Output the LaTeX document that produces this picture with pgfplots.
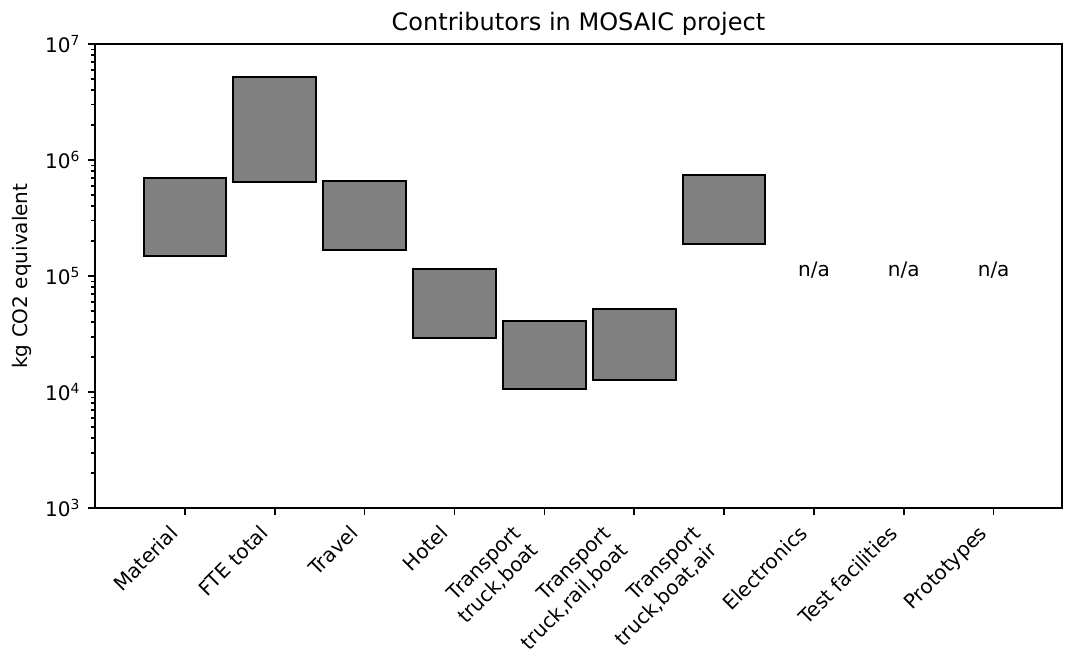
\documentclass[border=0pt]{standalone}
\usepackage{graphicx}
\usepackage{fontspec}
\setmainfont{DejaVu Sans}
\usepackage{pgfplots}
\pgfplotsset{compat=1.18}

% rotated tick label, right aligned like matplotlib (ha=right, rotation=45)
\newcommand{\rl}[1]{\rotatebox{45}{\begin{tabular}{@{}r@{}}#1\end{tabular}}}

\begin{document}
\begin{tikzpicture}
\begin{axis}[
    name=ax,
    scale only axis,
    width=696.2pt, height=334.1pt,
    ymode=log,
    xmin=-1, xmax=9.76,
    ymin=1e3, ymax=1e7,
    axis line style={line width=1.15pt},
    every tick/.style={black, line width=1.15pt},
    tick align=outside,
    major tick length=5pt,
    minor tick length=2.9pt,
    xtick pos=bottom, ytick pos=left,
    xtick={0,1,2,3,4,5,6,7,8,9},
    xticklabels={\rl{Material},\rl{FTE total},\rl{Travel},\rl{Hotel},
        \rl{Transport\\truck,boat},\rl{Transport\\truck,rail,boat},
        \rl{Transport\\truck,boat,air},\rl{Electronics},
        \rl{Test facilities},\rl{Prototypes}},
    xticklabel style={anchor=north east, inner sep=0pt, yshift=-5.5pt, font=\fontsize{14.4}{17.3}\selectfont},
    ytick={1e3,1e4,1e5,1e6,1e7},
    yticklabels={10\textsuperscript{3},10\textsuperscript{4},10\textsuperscript{5},10\textsuperscript{6},10\textsuperscript{7}},
    minor ytick={2e3,3e3,4e3,5e3,6e3,7e3,8e3,9e3,
                 2e4,3e4,4e4,5e4,6e4,7e4,8e4,9e4,
                 2e5,3e5,4e5,5e5,6e5,7e5,8e5,9e5,
                 2e6,3e6,4e6,5e6,6e6,7e6,8e6,9e6},
    yticklabel style={anchor=east, inner sep=0pt, xshift=-5.5pt, font=\fontsize{14.4}{17.3}\selectfont},
    /pgf/number format/assume math mode=true,
    title={Contributors in MOSAIC project},
    every axis title/.style={at={(0.5,1)}, anchor=base, inner sep=0pt, yshift=10pt, font=\fontsize{17.3}{20.7}\selectfont},
    ylabel={kg CO2 equivalent},
    ylabel style={at={(axis description cs:-0.075,0.5)}, anchor=center, inner sep=0pt, font=\fontsize{14.4}{17.3}\selectfont},
    bar/.style={fill=gray, draw=black, line width=1.44pt},
]
% floating bars: (lower, upper) per category, width 0.92
\addplot[bar] coordinates {(-0.46,1.49e5) (0.46,1.49e5) (0.46,7.0e5) (-0.46,7.0e5)} -- cycle;
\addplot[bar] coordinates {(0.54,6.46e5) (1.46,6.46e5) (1.46,5.2e6) (0.54,5.2e6)} -- cycle;
\addplot[bar] coordinates {(1.54,1.67e5) (2.46,1.67e5) (2.46,6.6e5) (1.54,6.6e5)} -- cycle;
\addplot[bar] coordinates {(2.54,2.92e4) (3.46,2.92e4) (3.46,1.15e5) (2.54,1.15e5)} -- cycle;
\addplot[bar] coordinates {(3.54,1.06e4) (4.46,1.06e4) (4.46,4.1e4) (3.54,4.1e4)} -- cycle;
\addplot[bar] coordinates {(4.54,1.27e4) (5.46,1.27e4) (5.46,5.2e4) (4.54,5.2e4)} -- cycle;
\addplot[bar] coordinates {(5.54,1.89e5) (6.46,1.89e5) (6.46,7.4e5) (5.54,7.4e5)} -- cycle;
% no data
\node[anchor=base, inner sep=0pt, font=\fontsize{14.4}{17.3}\selectfont] at (axis cs:7,1e5) {n/a};
\node[anchor=base, inner sep=0pt, font=\fontsize{14.4}{17.3}\selectfont] at (axis cs:8,1e5) {n/a};
\node[anchor=base, inner sep=0pt, font=\fontsize{14.4}{17.3}\selectfont] at (axis cs:9,1e5) {n/a};
\end{axis}
\path ([xshift=-68.4pt, yshift=-102.2pt]ax.south west) rectangle ([xshift=9.4pt, yshift=31.7pt]ax.north east);
\end{tikzpicture}
\end{document}
